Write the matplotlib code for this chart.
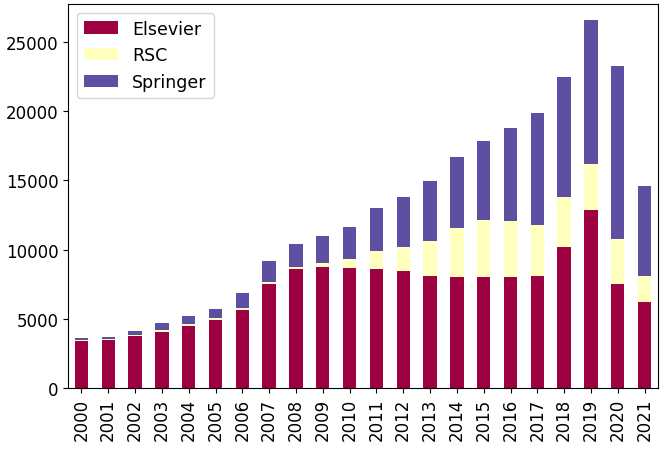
import numpy as np
import pandas as pd
import matplotlib
matplotlib.use('Agg')
import matplotlib.pyplot as plt

years = [str(y) for y in range(2000, 2022)]

# stacked totals
elsevier = [3420, 3490, 3740, 4050, 4490, 4900, 5630, 7550, 8570, 8730, 8700,
            8620, 8440, 8110, 8010, 8030, 8010, 8110, 10190, 12880, 7530, 6220]
rsc_top = [3500, 3550, 3860, 4200, 4640, 5050, 5750, 7640, 8760, 9050, 9330,
           9900, 10190, 10630, 11550, 12130, 12040, 11770, 13810, 16160, 10800, 8110]
total = [3620, 3670, 4130, 4710, 5170, 5700, 6870, 9200, 10400, 10960, 11610,
         12980, 13780, 14950, 16700, 17830, 18780, 19870, 22490, 26560, 23290, 14630]

rsc = [t - e for t, e in zip(rsc_top, elsevier)]
springer = [t - r for t, r in zip(total, rsc_top)]

df = pd.DataFrame({'Elsevier': elsevier, 'RSC': rsc, 'Springer': springer},
                  index=years)

plt.rcParams['font.size'] = 12
fig, ax = plt.subplots(figsize=(6.66, 4.52), dpi=100)
df.plot(kind='bar', stacked=True, colormap='Spectral', ax=ax)
ax.set_ylim(0, 27750)
ax.set_yticks([0, 5000, 10000, 15000, 20000, 25000])
ax.legend(loc='upper left', fontsize=12.5)
fig.subplots_adjust(left=68 / 666, right=658 / 666, top=1 - 5 / 452, bottom=1 - 389 / 452)
fig.savefig('out.png', dpi=100)
